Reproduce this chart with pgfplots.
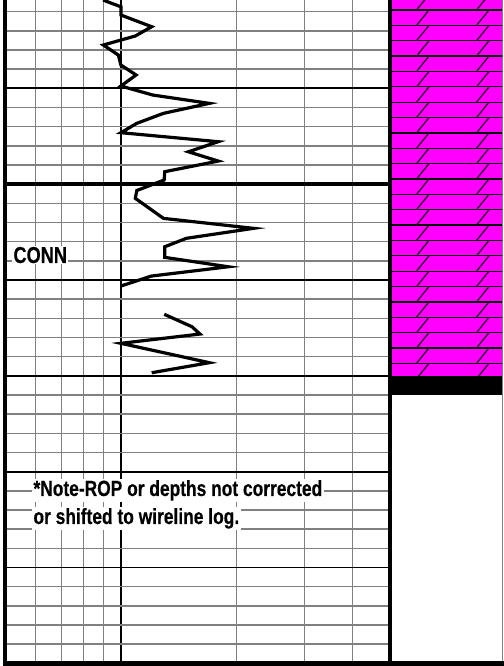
\documentclass[border=0pt]{standalone}
\usepackage{fontspec}
\setmainfont{Liberation Sans}
\newfontfamily\nb[FakeStretch=0.79, FakeBold=0.4]{Liberation Sans Bold}
\usepackage{pgfplots}
\pgfplotsset{compat=1.18}
\usepackage{pgfplotstable}
\definecolor{gridgray}{RGB}{128,128,128}
\definecolor{mag}{RGB}{255,0,255}

\pgfplotstableread{
v d
8.99 90.79
10.0 91.49
10.0 92.35
12.02 93.57
10.9 94.54
9.0 95.48
9.85 96.53
10.0 97.57
10.95 98.61
10.0 99.76
12.1 100.70
16.97 101.57
12.9 102.61
11.0 103.65
10.0 104.63
17.9 105.57
14.97 106.62
17.9 107.59
13.0 108.70
12.95 109.57
11.0 110.66
10.9 111.48
12.9 113.57
22.1 114.61
14.8 115.65
13.0 116.53
13.0 117.64
19.0 118.62
12.0 119.59
10.0 120.63
}\ropA

\pgfplotstableread{
v d
12.96 123.58
15.3 124.88
16.05 125.64
10.0 126.61
16.97 128.63
12.02 129.68
}\ropB

\pgfplotstableread{
d
90.226
91.829
93.432
95.035
96.638
98.241
99.844
101.447
103.050
104.653
106.256
107.859
109.462
111.065
112.668
114.271
115.874
117.477
119.080
120.683
122.286
123.889
125.492
127.095
128.698
130.301
}\litho

\begin{document}
\begin{tikzpicture}[x=1pt,y=1pt]
\begin{axis}[name=t1, at={(5pt,2.7pt)}, anchor=south west, scale only axis,
  width=385pt, height=670.8pt,
  xmode=log, xmin=5, xmax=50, ymin=90, ymax=160, y dir=reverse,
  xtick={10}, minor xtick={6,7,8,9,20,30,40},
  ytick={90,100,...,160}, minor ytick={92,94,...,158},
  grid=both,
  major grid style={black,line width=1.9pt},
  minor grid style={gridgray,line width=1.4pt},
  xticklabels={}, yticklabels={}, tick style={draw=none},
  axis line style={draw=none},
]
\addplot[black, line width=3.4pt, mark=none] coordinates {(4,110) (60,110)};
\addplot[black, line width=3.2pt, mark=none] table[x=v,y=d]{\ropA};
\addplot[black, line width=3.2pt, mark=none] table[x=v,y=d]{\ropB};
\end{axis}

\begin{axis}[name=t2, at={(390pt,2.7pt)}, anchor=south west, scale only axis,
  width=112.3pt, height=670.8pt,
  xmin=390, xmax=502.3, ymin=90, ymax=160, y dir=reverse, hide axis]
\addplot[fill=mag, draw=none] coordinates {(380,85) (510,85) (510,130) (380,130)} --cycle;
\addplot[xcomb, black, line width=1.3pt, mark=none] table[x expr=510, y=d]{\litho};
\addplot[quiver={u=12.5,v=-1.6029}, black!80!mag, line width=1.4pt, mark=none] table[x expr=416.5, y=d]{\litho};
\addplot[quiver={u=12.5,v=-1.6029}, black!80!mag, line width=1.4pt, mark=none] table[x expr=476.5, y=d]{\litho};
\addplot[fill=black, draw=none] coordinates {(380,130) (510,130) (510,132) (380,132)} --cycle;
\end{axis}

\draw[line width=3.5pt] (5,0) -- (5,690);
\draw[line width=3.3pt] (390,0) -- (390,690);
\draw[gridgray, line width=1pt] (502.3,0) -- (502.3,690);
\draw[line width=4.5pt] (3,2.7) -- (510,2.7);

\node[anchor=base west, fill=white, inner xsep=1.5pt, inner ysep=1pt, font=\nb\fontsize{23}{23}\selectfont] at (11.8,403) {CONN};
\node[anchor=base west, fill=white, inner xsep=1.5pt, inner ysep=1.5pt, font=\nb\fontsize{22}{22}\selectfont] at (31.8,170) {*Note-ROP or depths not corrected};
\node[anchor=base west, fill=white, inner xsep=1.5pt, inner ysep=1.5pt, font=\nb\fontsize{22}{22}\selectfont] at (31.8,142) {or shifted to wireline log.};

\pgfresetboundingbox
\path[use as bounding box] (0,0) rectangle (503,666);
\end{tikzpicture}
\end{document}
